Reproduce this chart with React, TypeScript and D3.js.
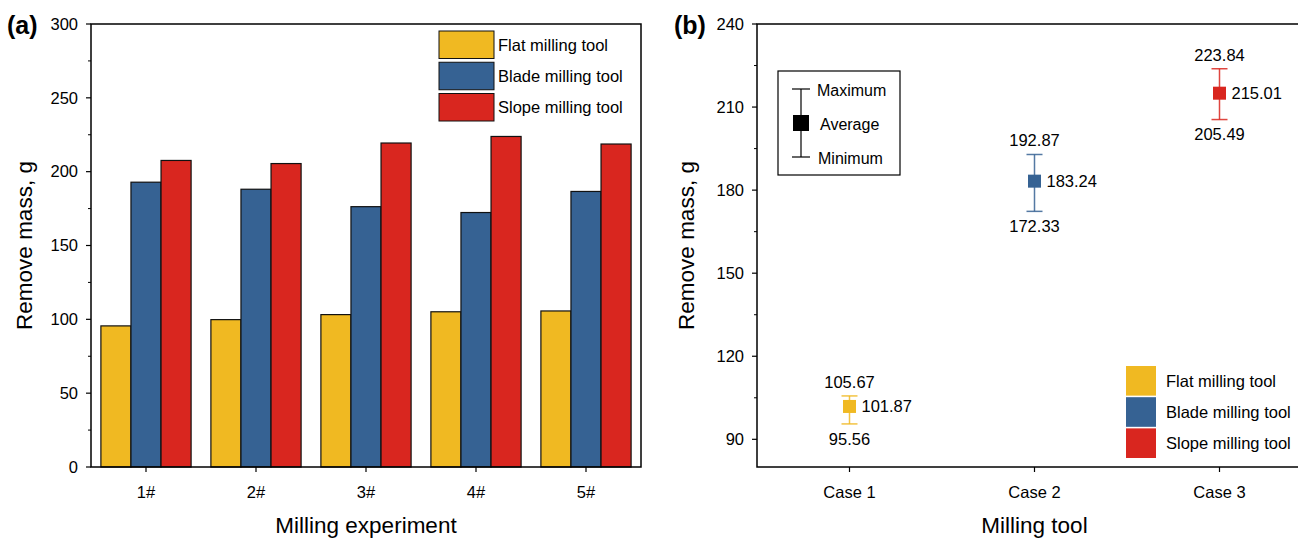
import * as d3 from 'd3';

const experiments = ['1#', '2#', '3#', '4#', '5#'];
const tools = ['Flat milling tool', 'Blade milling tool', 'Slope milling tool'];
const flatMass = [95.56, 99.8, 103.2, 105.12, 105.67];
const bladeMass = [192.87, 188.1, 176.3, 172.33, 186.6];
const slopeMass = [207.6, 205.49, 219.4, 223.84, 218.72];
const barTicks = [0, 50, 100, 150, 200, 250, 300];

const cases = ['Case 1', 'Case 2', 'Case 3'];
const avgMass = [101.87, 183.24, 215.01];
const maxMass = [105.67, 192.87, 223.84];
const minMass = [95.56, 172.33, 205.49];
const rangeTicks = [90, 120, 150, 180, 210, 240];

const colors = ['#f0b922', '#366293', '#d9261f'];
const font = 'Liberation Sans, Arial, sans-serif';

const W = 1298;
const H = 539;

const App = () => {
  const series = [flatMass, bladeMass, slopeMass];

  // panel (a)
  const aL = 91, aR = 641, top = 24, bottom = 467;
  const xa = d3.scaleBand<string>().domain(experiments).range([aL, aR]).paddingInner(0.18).paddingOuter(0.09);
  const xs = d3.scaleBand<number>().domain([0, 1, 2]).range([0, xa.bandwidth()]);
  const ya = d3.scaleLinear().domain([0, 300]).range([bottom, top]);
  const aMinor = d3.range(25, 300, 50);

  // panel (b)
  const bL = 757, bR = 1312;
  const xb = d3.scalePoint<string>().domain(cases).range([bL, bR]).padding(0.5);
  const yb = d3.scaleLinear().domain([80, 240]).range([bottom, top]);
  const bMinor = d3.range(105, 240, 30);

  const legY = d3.scaleBand<number>().domain([0, 1, 2]).range([31, 121]).paddingInner(0.12);
  const legY2 = d3.scaleBand<number>().domain([0, 1, 2]).range([366, 458]).paddingInner(0.05);

  return (
    <div style={{ position: 'absolute', left: 0, top: 0 }}>
      <svg width={W} height={H} style={{ display: 'block', fontFamily: font }}>
        <rect width={W} height={H} fill="#fff" />

        {/* ---------- (a) ---------- */}
        <text x={7} y={34} fontSize={25} fontWeight="bold">(a)</text>
        {experiments.map((e, i) => (
          <g key={e}>
            {series.map((s, k) => (
              <rect key={k} x={(xa(e) ?? 0) + (xs(k) ?? 0)} y={ya(s[i])}
                width={xs.bandwidth()} height={bottom - ya(s[i])}
                fill={colors[k]} stroke="#111" strokeWidth={1.2} />
            ))}
          </g>
        ))}
        <rect x={aL} y={top} width={aR - aL} height={bottom - top} fill="none" stroke="#000" strokeWidth={1.5} />
        {barTicks.map(t => (
          <g key={t}>
            <line x1={aL - 5} x2={aL} y1={ya(t)} y2={ya(t)} stroke="#000" strokeWidth={1.2} />
            <text x={aL - 13} y={ya(t)} dy="0.35em" textAnchor="end" fontSize={16.5}>{t}</text>
          </g>
        ))}
        {aMinor.map(t => (
          <line key={t} x1={aL - 3} x2={aL} y1={ya(t)} y2={ya(t)} stroke="#000" strokeWidth={1} />
        ))}
        {experiments.map(e => {
          const cx = (xa(e) ?? 0) + xa.bandwidth() / 2;
          return (
            <g key={e}>
              <line x1={cx} x2={cx} y1={bottom} y2={bottom + 5} stroke="#000" strokeWidth={1.2} />
              <text x={cx} y={492} dy="0.35em" textAnchor="middle" fontSize={16.5}>{e}</text>
            </g>
          );
        })}
        <text transform={`translate(32, ${(top + bottom) / 2}) rotate(-90)`} textAnchor="middle" fontSize={22.5}>Remove mass, g</text>
        <text x={(aL + aR) / 2} y={533} textAnchor="middle" fontSize={22.5}>Milling experiment</text>
        {tools.map((t, k) => (
          <g key={t}>
            <rect x={439} y={legY(k)} width={55} height={legY.bandwidth()} fill={colors[k]} stroke="#111" strokeWidth={1} />
            <text x={498} y={(legY(k) ?? 0) + legY.bandwidth() / 2} dy="0.35em" fontSize={16.5}>{t}</text>
          </g>
        ))}

        {/* ---------- (b) ---------- */}
        <text x={674} y={34} fontSize={25} fontWeight="bold">(b)</text>
        <rect x={bL} y={top} width={bR - bL} height={bottom - top} fill="none" stroke="#000" strokeWidth={1.5} />
        {rangeTicks.map(t => (
          <g key={t}>
            <line x1={bL - 5} x2={bL} y1={yb(t)} y2={yb(t)} stroke="#000" strokeWidth={1.2} />
            <text x={bL - 13} y={yb(t)} dy="0.35em" textAnchor="end" fontSize={16.5}>{t}</text>
          </g>
        ))}
        {bMinor.map(t => (
          <line key={t} x1={bL - 3} x2={bL} y1={yb(t)} y2={yb(t)} stroke="#000" strokeWidth={1} />
        ))}
        {cases.map(c => (
          <g key={c}>
            <line x1={xb(c)} x2={xb(c)} y1={bottom} y2={bottom + 5} stroke="#000" strokeWidth={1.2} />
            <text x={xb(c)} y={492} dy="0.35em" textAnchor="middle" fontSize={16.5}>{c}</text>
          </g>
        ))}
        <text transform={`translate(694, ${(top + bottom) / 2}) rotate(-90)`} textAnchor="middle" fontSize={22.5}>Remove mass, g</text>
        <text x={xb('Case 2')} y={533} textAnchor="middle" fontSize={22.5}>Milling tool</text>

        {cases.map((c, i) => {
          const cx = xb(c) ?? 0;
          const col = colors[i];
          return (
            <g key={c}>
              <line x1={cx} x2={cx} y1={yb(maxMass[i])} y2={yb(minMass[i])} stroke={col} strokeOpacity={0.85} strokeWidth={1.5} />
              <line x1={cx - 8} x2={cx + 8} y1={yb(maxMass[i])} y2={yb(maxMass[i])} stroke={col} strokeOpacity={0.85} strokeWidth={1.5} />
              <line x1={cx - 8} x2={cx + 8} y1={yb(minMass[i])} y2={yb(minMass[i])} stroke={col} strokeOpacity={0.85} strokeWidth={1.5} />
              <rect x={cx - 6.5} y={yb(avgMass[i]) - 6.5} width={13} height={13} fill={col} />
              <text x={cx} y={yb(maxMass[i]) - 14} dy="0.35em" textAnchor="middle" fontSize={16.5}>{maxMass[i].toFixed(2)}</text>
              <text x={cx} y={yb(minMass[i]) + 15} dy="0.35em" textAnchor="middle" fontSize={16.5}>{minMass[i].toFixed(2)}</text>
              <text x={cx + 12} y={yb(avgMass[i])} dy="0.35em" fontSize={16.5}>{avgMass[i].toFixed(2)}</text>
            </g>
          );
        })}

        {/* stat legend */}
        <rect x={778} y={71} width={122} height={104} fill="#fff" stroke="#000" strokeWidth={1.2} />
        <line x1={801} x2={801} y1={89} y2={157} stroke="#000" strokeWidth={1.2} />
        <line x1={792} x2={810} y1={89} y2={89} stroke="#000" strokeWidth={1.2} />
        <line x1={792} x2={810} y1={157} y2={157} stroke="#000" strokeWidth={1.2} />
        <rect x={793} y={115} width={16} height={16} fill="#000" />
        <text x={817} y={90} dy="0.35em" fontSize={16}>Maximum</text>
        <text x={820} y={124} dy="0.35em" fontSize={16}>Average</text>
        <text x={818} y={158} dy="0.35em" fontSize={16}>Minimum</text>

        {/* color legend */}
        {tools.map((t, k) => (
          <g key={t}>
            <rect x={1126} y={legY2(k)} width={30} height={legY2.bandwidth()} fill={colors[k]} />
            <text x={1166} y={(legY2(k) ?? 0) + legY2.bandwidth() / 2} dy="0.35em" fontSize={16.5}>{t}</text>
          </g>
        ))}
      </svg>
    </div>
  );
};

export default App;
